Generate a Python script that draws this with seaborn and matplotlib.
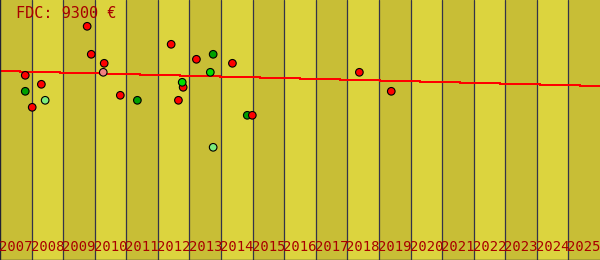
import matplotlib
matplotlib.use("Agg")
import matplotlib.pyplot as plt
import matplotlib.transforms as mtransforms
import seaborn as sns
import pandas as pd
import numpy as np

# ---- data ----
years = list(range(2007, 2026))
title = "FDC: 9300 €"

pt_x = [2007.80, 2007.80, 2008.31, 2008.02, 2008.43, 2009.76, 2009.89, 2010.30,
        2010.27, 2010.81, 2011.35, 2012.42, 2012.65, 2012.80, 2012.77, 2013.22,
        2013.75, 2013.66, 2014.36, 2014.83, 2014.99, 2013.75, 2018.38, 2019.39]
pt_y = [184.7, 168.7, 175.7, 152.7, 159.7, 233.7, 205.7, 196.7,
        187.7, 164.7, 159.7, 215.7, 159.7, 172.7, 177.7, 200.7,
        205.7, 187.7, 196.7, 144.7, 144.7, 112.7, 187.7, 168.7]
pt_kind = ["a", "b", "a", "a", "d", "a", "a", "a",
           "e", "a", "b", "a", "a", "a", "c", "a",
           "b", "c", "a", "b", "a", "d", "a", "a"]

trend_x = [2007.0, 2026.0]
trend_y = [189.0, 174.0]

palette = {"a": "#ff0000", "b": "#00a000", "c": "#00dd00", "d": "#7ced7c", "e": "#f08080"}

df = pd.DataFrame({"x": pt_x, "y": pt_y, "kind": pt_kind})
tr = pd.DataFrame({"x": trend_x, "y": trend_y})

sns.set_style("white")
plt.rcParams["font.family"] = ["DejaVu Sans Mono", "DejaVu Sans"]

fig = plt.figure(figsize=(6, 2.6), dpi=100)
ax = fig.add_axes([0, 0, 1, 1])

band_dark = "#c8be36"
band_light = "#dcd43e"
for i, yr in enumerate(years):
    ax.axvspan(yr, yr + 1, color=band_dark if i % 2 == 0 else band_light, lw=0, zorder=0)
    if i > 0:
        ax.axvline(yr, color="#33334a", lw=0.9, zorder=1)

sns.lineplot(data=tr, x="x", y="y", color="#ff0000", lw=0.75, ax=ax, zorder=2,
             antialiased=False)
sns.scatterplot(data=df, x="x", y="y", hue="kind", palette=palette, s=30,
                edgecolor="black", linewidth=0.8, legend=False, ax=ax, zorder=3)

ax.set_xlim(2007, 2026)
ax.set_ylim(0, 260)
ax.set_xticks([])
ax.set_yticks([])
ax.set_xlabel("")
ax.set_ylabel("")
for s in ["top", "right"]:
    ax.spines[s].set_visible(False)
for s in ["left", "bottom"]:
    ax.spines[s].set_color("#222233")
    ax.spines[s].set_linewidth(1.0)

trans = mtransforms.blended_transform_factory(ax.transData, ax.transAxes)
for yr in years:
    ax.text(yr + 0.5, 9 / 260, str(yr), transform=trans, ha="center", va="baseline",
            fontsize=10, color="#a80000")

fig.text(16 / 600, 1 - 17.7 / 260, title, ha="left", va="baseline",
         fontsize=11, color="#a80000")

fig.savefig("out.png", dpi=100)
